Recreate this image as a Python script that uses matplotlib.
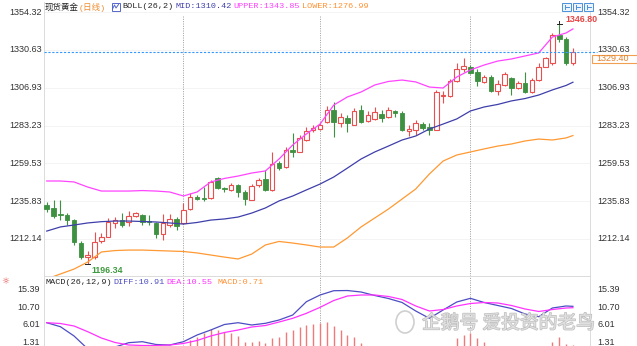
import matplotlib
matplotlib.use("Agg")
import matplotlib.pyplot as plt
from matplotlib.patches import Rectangle, Ellipse
from matplotlib.transforms import blended_transform_factory
import matplotlib.patheffects as pe
import numpy as np

W, H = 637, 346

# daily candles
opens = [1233.4, 1231.6, 1227.8, 1227.2, 1224.0, 1209.6, 1200.7, 1200.8, 1211.1, 1213.7,
         1221.9, 1224.0, 1222.5, 1226.6, 1227.2, 1223.6, 1222.4, 1215.3, 1221.2, 1224.4,
         1222.2, 1230.9, 1238.7, 1237.8, 1237.8, 1250.4, 1244.3, 1242.9, 1245.7, 1241.3,
         1236.9, 1245.7, 1249.8, 1242.9, 1259.8, 1257.3, 1268.2, 1266.9, 1274.2, 1280.2,
         1281.4, 1285.5, 1293.0, 1285.1, 1287.8, 1283.9, 1293.0, 1286.1, 1287.4, 1290.8,
         1288.6, 1292.4, 1291.4, 1279.8, 1280.5, 1284.2, 1282.4, 1280.5, 1302.1, 1301.8,
         1311.2, 1318.5, 1320.0, 1317.0, 1310.8, 1313.9, 1305.1, 1308.7, 1312.9, 1306.8,
         1310.1, 1304.5, 1311.8, 1320.2, 1322.3, 1339.9, 1337.3, 1322.3]
highs = [1235.5, 1236.6, 1236.6, 1228.4, 1224.8, 1210.6, 1204.6, 1216.5, 1215.9, 1225.3,
         1226.1, 1228.4, 1229.7, 1229.2, 1227.8, 1227.2, 1223.0, 1227.8, 1227.8, 1226.1,
         1234.7, 1241.0, 1239.7, 1244.7, 1249.1, 1251.3, 1245.0, 1247.2, 1246.6, 1242.9,
         1246.6, 1250.1, 1255.4, 1266.7, 1261.0, 1270.1, 1278.6, 1277.3, 1282.2, 1283.6,
         1285.5, 1295.5, 1298.2, 1291.1, 1289.9, 1294.1, 1296.1, 1292.4, 1294.7, 1293.0,
         1294.6, 1293.0, 1292.1, 1283.6, 1286.7, 1285.5, 1285.1, 1305.6, 1304.9, 1312.5,
         1322.3, 1325.4, 1321.2, 1318.5, 1315.0, 1315.0, 1311.8, 1316.8, 1313.9, 1311.5,
         1317.0, 1313.1, 1322.3, 1326.4, 1341.1, 1346.80, 1338.5, 1331.7]
lows = [1229.2, 1225.3, 1224.0, 1220.9, 1208.4, 1199.9, 1196.34, 1199.6, 1209.8, 1213.4,
        1219.3, 1219.8, 1220.3, 1225.7, 1220.9, 1220.9, 1212.6, 1211.5, 1219.8, 1217.5,
        1221.5, 1230.3, 1236.6, 1236.0, 1237.5, 1243.2, 1241.8, 1242.2, 1238.5, 1233.4,
        1236.6, 1245.0, 1242.2, 1242.2, 1255.4, 1256.6, 1263.7, 1266.4, 1273.6, 1279.2,
        1280.5, 1284.9, 1276.3, 1282.5, 1279.4, 1283.6, 1284.9, 1285.5, 1286.7, 1285.2,
        1287.7, 1288.6, 1279.8, 1276.4, 1277.3, 1280.5, 1277.3, 1280.2, 1297.4, 1301.2,
        1310.6, 1317.0, 1315.6, 1308.1, 1309.9, 1304.3, 1302.4, 1308.1, 1302.4, 1306.2,
        1303.5, 1303.7, 1311.2, 1319.7, 1321.2, 1335.8, 1321.2, 1321.2]
closes = [1230.8, 1226.7, 1226.9, 1224.0, 1210.3, 1200.8, 1202.4, 1210.3, 1213.6, 1222.8,
          1224.0, 1221.2, 1226.6, 1228.4, 1223.0, 1222.5, 1215.3, 1221.9, 1224.4, 1220.3,
          1230.3, 1238.5, 1237.3, 1237.2, 1248.1, 1244.4, 1243.2, 1246.0, 1241.6, 1237.2,
          1245.4, 1249.1, 1242.9, 1259.2, 1256.5, 1268.2, 1266.9, 1275.3, 1279.8, 1282.0,
          1283.6, 1293.3, 1285.2, 1288.4, 1284.7, 1292.6, 1285.7, 1289.9, 1291.8, 1288.3,
          1293.0, 1291.4, 1280.5, 1281.4, 1284.7, 1281.7, 1280.5, 1304.3, 1302.7, 1311.2,
          1318.5, 1320.5, 1316.4, 1310.9, 1313.9, 1305.1, 1309.3, 1315.6, 1306.6, 1310.1,
          1304.5, 1311.8, 1320.2, 1325.4, 1340.0, 1337.3, 1322.3, 1329.40]

# BOLL(26,2) sampled on every other bar plus the last one
band_idx = list(range(0, 77, 2)) + [77]
upper = [1248.5, 1248.5, 1247.9, 1244.7, 1242.2, 1242.2, 1242.2, 1242.5, 1242.2, 1241.6,
         1239.1, 1241.6, 1247.9, 1250.1, 1251.6, 1253.5, 1254.8, 1262.3, 1271.1, 1278.0,
         1284.2, 1296.1, 1301.2, 1304.3, 1308.7, 1310.9, 1311.8, 1310.6, 1307.4, 1306.8,
         1313.7, 1318.1, 1321.2, 1323.7, 1325.0, 1326.9, 1328.8, 1338.8, 1341.3, 1343.85]
mid = [1217.1, 1219.7, 1220.9, 1222.2, 1223.0, 1223.4, 1223.4, 1223.1, 1222.8, 1222.2,
       1221.5, 1222.5, 1224.0, 1224.7, 1225.9, 1228.4, 1231.6, 1236.0, 1239.1, 1242.9,
       1246.6, 1251.0, 1256.6, 1262.3, 1266.7, 1270.4, 1274.2, 1276.7, 1281.1, 1284.2,
       1287.4, 1292.4, 1294.9, 1296.5, 1298.7, 1300.2, 1302.4, 1305.6, 1308.4, 1310.42]
lower = [1187.1, 1190.2, 1193.3, 1197.7, 1204.0, 1204.9, 1205.2, 1205.2, 1204.9, 1204.6,
         1204.3, 1203.4, 1202.1, 1200.8, 1199.6, 1202.7, 1208.4, 1210.6, 1209.6, 1208.4,
         1207.1, 1207.1, 1212.8, 1219.7, 1225.3, 1230.9, 1237.2, 1243.5, 1252.9, 1261.0,
         1264.8, 1266.7, 1268.6, 1270.4, 1271.7, 1273.6, 1274.8, 1274.2, 1275.5, 1276.99]

# MACD(26,12,9)
diff = [6.60, 5.55, 3.10, -0.3, -1.2, 0.2, 1.34, 1.6, 0.86, 0.73,
        1.6, 3.36, 4.68, 6.13, 6.60, 6.0, 6.44, 7.31, 8.63, 12.13,
        13.89, 15.02, 15.07, 14.68, 13.76, 12.97, 11.92, 9.68, 7.76, 9.94,
        12.05, 13.02, 11.92, 11.13, 10.34, 8.89, 8.18, 10.47, 11.0, 10.91]
dea = [6.60, 6.39, 5.73, 4.23, 2.57, 1.39, 0.73, 0.6, 0.6, 0.73,
       1.13, 1.92, 3.1, 4.02, 4.68, 5.47, 5.86, 6.78, 7.76, 9.07,
       10.65, 12.44, 13.63, 13.89, 13.89, 13.5, 12.71, 11.0, 9.68, 10.07,
       11.0, 11.65, 11.92, 11.79, 11.13, 10.21, 9.55, 10.07, 10.47, 10.55]
macd_hist = [0.0, -0.8, -1.6, -2.6, -5.3, -7.0, -9.0, -8.5, -7.5, -5.0,
             -2.0, -0.6, 0.1, 0.2, 0.3, 0.2, 0.1, 0.1, 0.0, 0.2,
             0.4, 2.05, 2.92, 3.81, 4.86, 4.68, 4.23, 3.81, 3.1, 1.6,
             1.6, 1.86, 1.26, 2.5, 2.92, 4.23, 4.68, 5.55, 5.99, 6.26,
             6.6, 6.86, 5.73, 4.68, 3.36, 2.92, 1.34, -0.2, -0.3, -0.6,
             -1.0, -1.2, -1.6, -2.2, -2.6, -3.0, -3.6, -2.5, -0.4, 0.5,
             2.5, 3.36, 3.81, 2.5, 1.6, 0.2, -0.3, -0.6, -1.0, -1.4,
             -1.8, -2.3, -2.5, -1.6, 1.6, 2.92, 1.08, 0.71]

price_ticks = [1354.32, 1330.63, 1306.93, 1283.23, 1259.53, 1235.83, 1212.14]
macd_ticks = [15.39, 10.70, 6.01, 1.31]
month_starts = [20, 40, 62]

RED = "#ea4f4f"
GREEN = "#3d9140"
C_UP = "#ff44ff"
C_MID = "#3f3fab"
C_LOW = "#ff9933"


def fx(px):
    return px / W


def fy(py):
    return 1 - py / H


fig = plt.figure(figsize=(W / 100, H / 100), dpi=100)
fig.patch.set_facecolor("white")

ax = fig.add_axes([fx(44), fy(276), (590 - 44) / W, (276 - 2) / H])
ax2 = fig.add_axes([fx(44), 0, (590 - 44) / W, (346 - 277) / H])

for a in (ax, ax2):
    a.set_xlim(-0.4, 79.5)
    a.set_xticks([])
    a.set_yticks([])
    for s in a.spines.values():
        s.set_color("#d6d6d6")
        s.set_linewidth(0.6)
    a.spines["top"].set_visible(False)
for m in month_starts:
    ax.axvline(m, ymax=0.953, color="#9a9a9a", lw=0.7, ls=(0, (1, 1.4)), zorder=1)
    ax2.axvline(m, color="#9a9a9a", lw=0.7, ls=(0, (1, 1.4)), zorder=1)

ax.set_ylim(1188.94, 1360.72)
ax2.set_ylim(0.468, 18.63)

for t in price_ticks:
    ax.axhline(t, color="#f3f3f3", lw=0.6, zorder=0)

# candles
idx = np.arange(len(closes))
o = np.array(opens)
c = np.array(closes)
hi = np.array(highs)
lo = np.array(lows)
up = c >= o
cols = np.where(up, RED, GREEN)
ax.vlines(idx, lo, hi, colors=cols, lw=0.8, zorder=2)
bottom = np.minimum(o, c)
height = np.maximum(np.abs(c - o), 0.45)
ax.bar(idx[up], height[up], bottom=bottom[up], width=0.66,
       facecolor="white", edgecolor=RED, lw=0.8, zorder=3)
ax.bar(idx[~up], height[~up], bottom=bottom[~up], width=0.66,
       facecolor=GREEN, edgecolor=GREEN, lw=0.6, zorder=3)

# bands
ax.plot(band_idx, upper, color=C_UP, lw=0.9, zorder=4)
ax.plot(band_idx, mid, color=C_MID, lw=0.9, zorder=4)
ax.plot(band_idx, lower, color=C_LOW, lw=0.9, zorder=4)

# last price line
last = closes[-1]
ax.plot([-0.4, 80.5], [last, last], color="#3399ff", lw=0.8,
        ls=(0, (2, 1.5)), clip_on=False, zorder=5)
fig.patches.append(Rectangle((fx(592), fy(63)), 50 / W, 8.5 / H, transform=fig.transFigure,
                             facecolor="white", edgecolor="#f0a050", lw=0.8))
fig.text(fx(596), fy(58.8), f"{last:.2f}", color="#e0802c", fontsize=6.5,
         family="Liberation Sans", va="center", ha="left")

# highest / lowest marks
ih = int(np.argmax(hi))
il = int(np.argmin(lo))
ax.plot([ih - 0.35, ih + 0.35], [hi[ih], hi[ih]], color="#222222", lw=0.7, zorder=6)
ax.plot([ih, ih], [hi[ih], hi[ih] + 2.0], color="#222222", lw=0.7, zorder=6)
ax.annotate(f"{hi[ih]:.2f}", (ih, hi[ih]), xytext=(4.5, 3.2), textcoords="offset points",
            color="#e84545", fontsize=6.4, fontweight="bold", family="Liberation Sans",
            ha="left", va="center")
ax.plot([il - 0.35, il + 0.35], [lo[il], lo[il]], color="#222222", lw=0.7, zorder=6)
ax.annotate(f"{lo[il]:.2f}", (il, lo[il]), xytext=(3, -4.3), textcoords="offset points",
            color="#3f9a3f", fontsize=6.4, fontweight="bold", family="Liberation Sans",
            ha="left", va="center")

# axis labels on both sides
tr = blended_transform_factory(fig.transFigure, ax.transData)
for t in price_ticks:
    ax.text(fx(42), t, f"{t:.2f}", transform=tr, ha="right", va="center",
            fontsize=6.5, color="#333333", family="Liberation Sans", clip_on=False)
    ax.text(fx(597), t, f"{t:.2f}", transform=tr, ha="left", va="center",
            fontsize=6.5, color="#333333", family="Liberation Sans", clip_on=False)
tr2 = blended_transform_factory(fig.transFigure, ax2.transData)
for t in macd_ticks:
    ax2.text(fx(40), t, f"{t:.2f}", transform=tr2, ha="right", va="center",
             fontsize=6.5, color="#333333", family="Liberation Sans", clip_on=False)
    ax2.text(fx(597), t, f"{t:.2f}", transform=tr2, ha="left", va="center",
             fontsize=6.5, color="#333333", family="Liberation Sans", clip_on=False)

# MACD panel
hist = np.array(macd_hist)
hcols = np.where(hist >= 0, "#f07a7a", GREEN)
ax2.vlines(idx, 0, hist, colors=hcols, lw=1.0, zorder=2)
ax2.plot(band_idx, diff, color="#4d4dc4", lw=0.9, zorder=3)
ax2.plot(band_idx, dea, color="#ff33ff", lw=0.9, zorder=3)

# headers
mono = ["Liberation Mono", "Noto Sans CJK SC"]
hdr = [
    (45, "现货黄金", "#222222"),
    (79, "(日线)", "#f08c30"),
    (122, "BOLL(26,2)", "#222222"),
    (175, f"MID:{mid[-1]:.2f}", C_MID),
    (233, f"UPPER:{upper[-1]:.2f}", "#ff40ff"),
    (302, f"LOWER:{lower[-1]:.2f}", "#ff9030"),
]
for x, s, col in hdr:
    fig.text(fx(x), fy(7), s, color=col, fontsize=6.1, family=mono, va="center", ha="left")
fig.patches.append(Rectangle((fx(111.5), fy(11)), 8 / W, 8 / H, transform=fig.transFigure,
                             facecolor="white", edgecolor="#5566cc", lw=0.7))
fig.lines.append(plt.Line2D([fx(112.5), fx(114.5), fx(116), fx(118.5)],
                            [fy(9), fy(5), fy(8), fy(4.5)], transform=fig.transFigure,
                            color="#5566cc", lw=0.7))

mhdr = [
    (45, "MACD(26,12,9)", "#222222"),
    (113, f"DIFF:{diff[-1]:.2f}", "#4d4dc4"),
    (166, f"DEA:{dea[-1]:.2f}", "#ff33ff"),
    (217, f"MACD:{macd_hist[-1]:.2f}", "#ff9030"),
]
for x, s, col in mhdr:
    fig.text(fx(x), fy(283), s, color=col, fontsize=6.1, family=mono, va="center", ha="left")
fig.text(fx(5), fy(282), "☼", color="#e84545", fontsize=6.5, ha="center", va="center",
         family="DejaVu Sans")

# toolbar buttons
for x0 in (562, 573, 584):
    fig.patches.append(Rectangle((fx(x0), fy(11)), 9 / W, 8 / H, transform=fig.transFigure,
                                 facecolor="#eef4fc", edgecolor="#4a90d9", lw=0.7))
    fig.lines.append(plt.Line2D([fx(x0 + 3), fx(x0 + 3)], [fy(9), fy(5)],
                                transform=fig.transFigure, color="#4a90d9", lw=0.7))
    fig.lines.append(plt.Line2D([fx(x0 + 4), fx(x0 + 7)], [fy(7), fy(7)],
                                transform=fig.transFigure, color="#4a90d9", lw=0.7))

# watermark
fig.patches.append(Ellipse((fx(405), fy(322)), 18 / W, 22 / H, transform=fig.transFigure,
                           facecolor="none", edgecolor="#c4c4c4", lw=1.2, alpha=0.8))
fig.text(fx(422), fy(323), "企鹅号 爱投资的老鸟", color="#e4e4e4", fontsize=13.5,
         family="Noto Sans CJK SC", va="center", ha="left", alpha=0.9,
         path_effects=[pe.withStroke(linewidth=1.0, foreground="#b8b8b8")])

fig.savefig("out.png", dpi=100)
